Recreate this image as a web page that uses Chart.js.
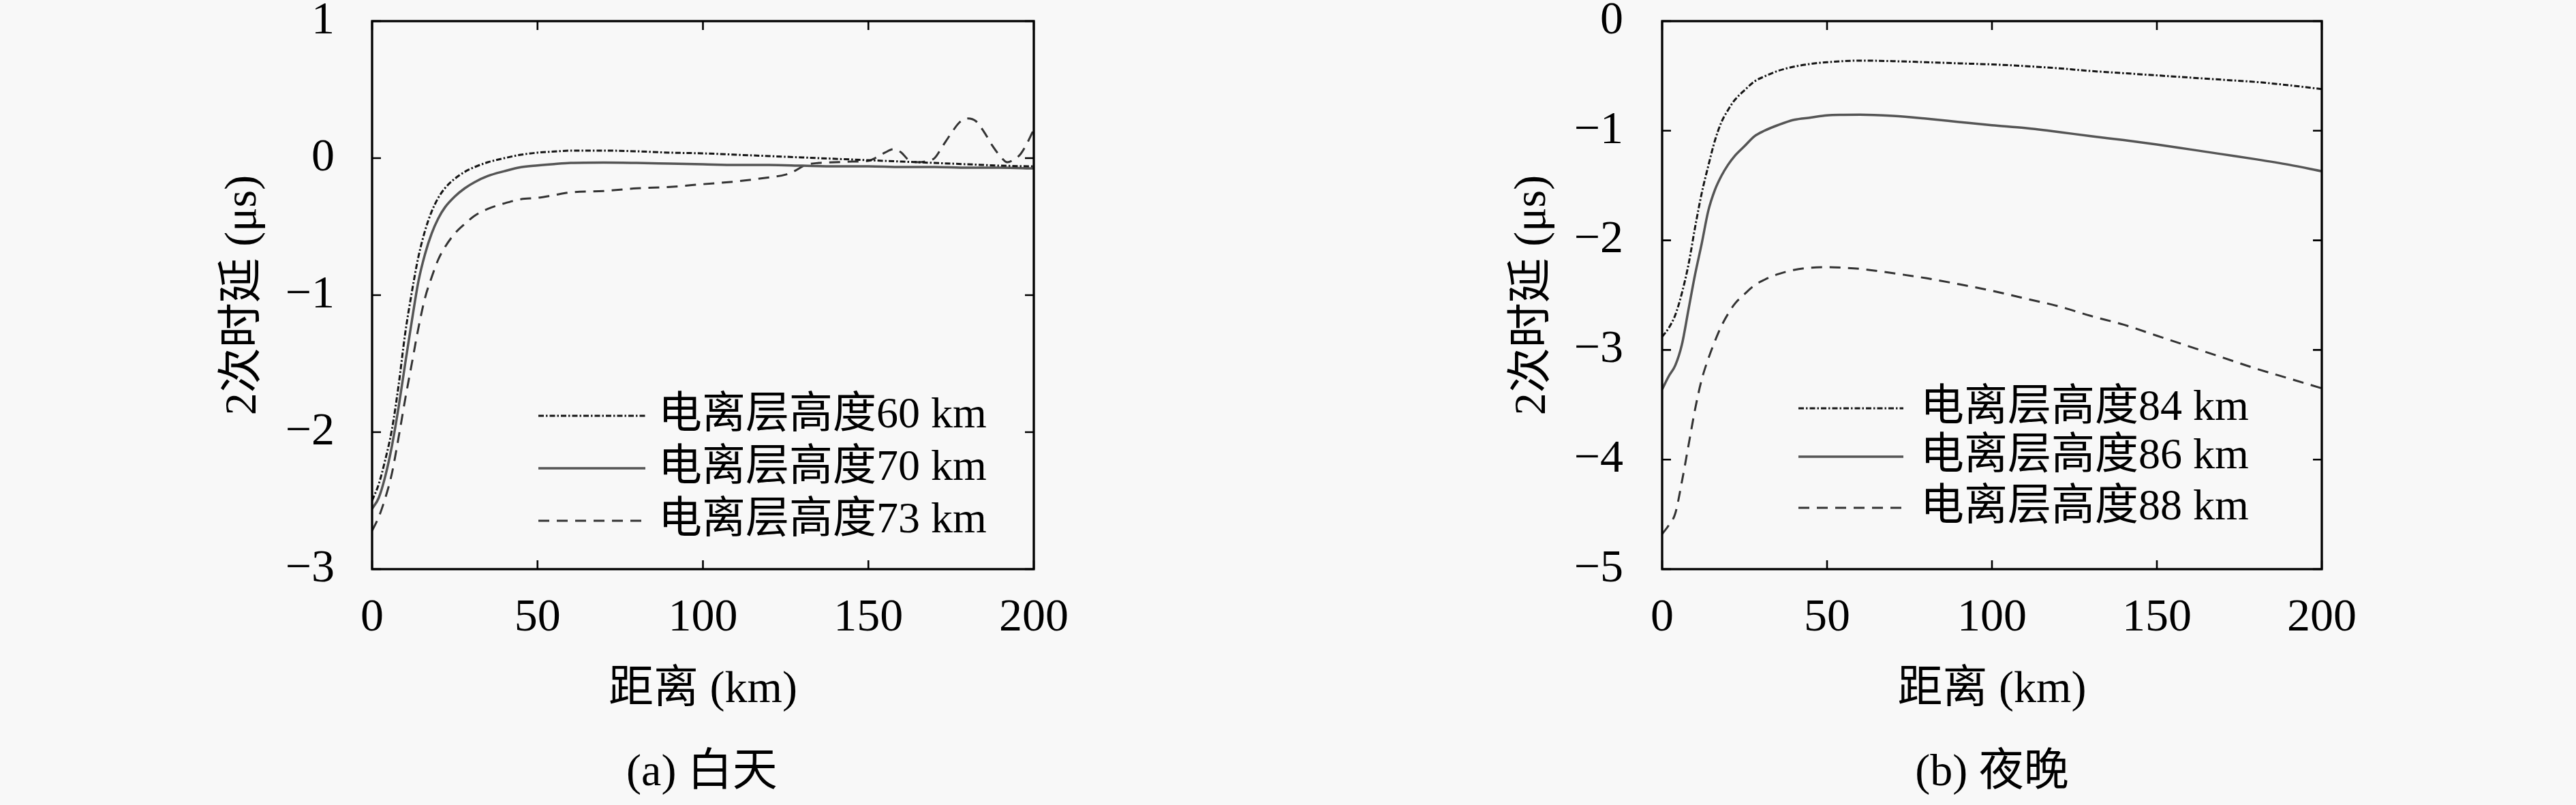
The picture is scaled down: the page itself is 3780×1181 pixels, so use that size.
<!DOCTYPE html>
<html>
<head>
<meta charset="utf-8">
<script src="https://cdn.jsdelivr.net/npm/chart.js@4.4.0/dist/chart.umd.min.js"></script>
<style>
html,body{margin:0;padding:0;background:#f8f8f8;width:3780px;height:1181px;overflow:hidden}
.panel{position:absolute;top:0;width:1890px;height:1181px}
.cap{position:absolute;top:1088px;width:500px;height:84px;line-height:84px;text-align:center;
font-size:66px;font-family:"Liberation Serif","Noto Sans CJK SC",serif;color:#000}
</style>
</head>
<body>
<div class="panel" style="left:0"><canvas id="c1" width="1890" height="1181"></canvas></div>
<div class="panel" style="left:1890px"><canvas id="c2" width="1890" height="1181"></canvas></div>
<div class="cap" style="left:780px">(a) 白天</div>
<div class="cap" style="left:2673px">(b) 夜晚</div>
<script>
// ---------- data ----------
const xTicks = [0, 50, 100, 150, 200];
const dayYTicks = [1, 0, -1, -2, -3];
const nightYTicks = [0, -1, -2, -3, -4, -5];

const dist = [0,2,4,6,8,10,12,14,16,18,20,22,25,28,31,35,40,45,50,55,60,70,80,90,100,110,120,130,140,150,160,170,180,190,200];

const day60 = [-2.50,-2.38,-2.20,-1.98,-1.66,-1.28,-0.98,-0.72,-0.53,-0.39,
  -0.29,-0.22,-0.15,-0.10,-0.065,-0.03,0.0,0.025,0.04,0.048,
  0.055,0.055,0.05,0.04,0.035,0.025,0.015,0.005,-0.005,-0.015,
  -0.025,-0.035,-0.045,-0.055,-0.06];
const day70 = [-2.56,-2.48,-2.32,-2.10,-1.82,-1.50,-1.19,-0.90,-0.70,-0.55,
  -0.44,-0.36,-0.28,-0.22,-0.175,-0.13,-0.095,-0.066,-0.053,-0.043,
  -0.035,-0.032,-0.035,-0.04,-0.045,-0.05,-0.05,-0.055,-0.06,-0.06,
  -0.065,-0.065,-0.07,-0.07,-0.075];
const dist73 = [0,2,4,6,8,10,12,14,16,18,20,22,25,28,31,35,40,45,50,55,
  60,70,80,90,100,110,120,125,128,131,135,140,145,150,152,155,157.5,160,162,165,
  168,170,172.5,175,177.5,180,182.5,185,187.5,190,192,194,196,198,200];
const day73 = [-2.72,-2.62,-2.48,-2.30,-2.04,-1.76,-1.50,-1.24,-1.02,-0.87,
  -0.74,-0.65,-0.55,-0.48,-0.42,-0.37,-0.33,-0.30,-0.29,-0.27,
  -0.25,-0.24,-0.22,-0.21,-0.19,-0.17,-0.14,-0.12,-0.09,-0.05,
  -0.035,-0.03,-0.025,-0.02,0.0,0.04,0.065,0.04,-0.01,-0.03,
  -0.02,0.0,0.09,0.18,0.26,0.29,0.27,0.19,0.09,0.01,
  -0.03,-0.01,0.03,0.11,0.21];

const night84 = [-2.88,-2.80,-2.68,-2.48,-2.22,-1.88,-1.57,-1.32,-1.09,-0.92,
  -0.81,-0.72,-0.63,-0.55,-0.505,-0.455,-0.415,-0.39,-0.375,-0.365,
  -0.36,-0.365,-0.375,-0.385,-0.395,-0.41,-0.43,-0.455,-0.475,-0.495,
  -0.515,-0.535,-0.555,-0.585,-0.62];
const night86 = [-3.36,-3.24,-3.14,-2.95,-2.63,-2.31,-2.03,-1.73,-1.54,-1.41,
  -1.31,-1.23,-1.14,-1.05,-1.00,-0.95,-0.90,-0.88,-0.86,-0.855,
  -0.853,-0.865,-0.89,-0.92,-0.95,-0.975,-1.01,-1.05,-1.085,-1.125,
  -1.17,-1.215,-1.26,-1.31,-1.37];
const night88 = [-4.68,-4.60,-4.49,-4.20,-3.87,-3.54,-3.27,-3.08,-2.92,-2.78,
  -2.67,-2.58,-2.49,-2.41,-2.36,-2.31,-2.27,-2.25,-2.245,-2.25,
  -2.26,-2.30,-2.345,-2.40,-2.46,-2.53,-2.60,-2.69,-2.77,-2.87,
  -2.97,-3.07,-3.17,-3.26,-3.35];

const dayLabels = ['电离层高度60 km', '电离层高度70 km', '电离层高度73 km'];
const nightLabels = ['电离层高度84 km', '电离层高度86 km', '电离层高度88 km'];
const xTitle = '距离 (km)';
const yTitle = '2次时延 (μs)';

// ---------- rendering ----------
const FAM = '"Liberation Serif", "Noto Sans CJK SC", serif';
Chart.defaults.color = '#000';
Chart.defaults.font.family = FAM;

const pts = (xs, ys) => xs.map((x, i) => ({x: x, y: ys[i]}));
const fmt = v => v < 0 ? '\u2212' + Math.abs(v) : String(v);

const styles = [
  {borderColor: '#151515', borderWidth: 3, borderDash: [8, 3, 2.5, 3]},
  {borderColor: '#555555', borderWidth: 3.5, borderDash: []},
  {borderColor: '#333333', borderWidth: 3, borderDash: [16, 11]}
];

const framePlugin = {
  id: 'frame',
  afterDraw(chart, args, opts) {
    const {ctx, chartArea: a, scales} = chart;
    const x = scales.x, y = scales.y;
    ctx.save();
    ctx.setLineDash([]);
    ctx.strokeStyle = '#000';
    ctx.lineWidth = 3.3;
    ctx.strokeRect(a.left, a.top, a.right - a.left, a.bottom - a.top);
    ctx.lineWidth = 2.6;
    const L = 13;
    ctx.beginPath();
    x.ticks.forEach(t => {
      const px = x.getPixelForValue(t.value);
      ctx.moveTo(px, a.bottom); ctx.lineTo(px, a.bottom - L);
      ctx.moveTo(px, a.top); ctx.lineTo(px, a.top + L);
    });
    y.ticks.forEach(t => {
      const py = y.getPixelForValue(t.value);
      ctx.moveTo(a.left, py); ctx.lineTo(a.left + L, py);
      ctx.moveTo(a.right, py); ctx.lineTo(a.right - L, py);
    });
    ctx.stroke();
    const lg = opts.legend;
    chart.data.datasets.forEach((ds, i) => {
      const yy = lg.rows[i];
      ctx.strokeStyle = ds.borderColor;
      ctx.lineWidth = ds.borderWidth;
      ctx.setLineDash(ds.borderDash || []);
      ctx.beginPath(); ctx.moveTo(lg.x0, yy); ctx.lineTo(lg.x1, yy); ctx.stroke();
      ctx.setLineDash([]);
      ctx.fillStyle = '#000';
      ctx.font = '64px ' + FAM;
      ctx.textBaseline = 'middle';
      ctx.textAlign = 'left';
      ctx.fillText(ds.label, lg.tx, yy);
    });
    ctx.restore();
  }
};

function makeChart(id, series, labels, yTicks, cfg) {
  const datasets = series.map((s, i) => Object.assign({
    label: labels[i], data: s, fill: false, pointRadius: 0,
    cubicInterpolationMode: 'monotone'
  }, styles[i]));
  return new Chart(document.getElementById(id), {
    type: 'line',
    data: {datasets},
    options: {
      responsive: false, animation: false, devicePixelRatio: 1,
      layout: {padding: {left: 300, right: 373, top: 31, bottom: 121}},
      plugins: {legend: {display: false}, tooltip: {enabled: false},
        frame: {legend: cfg.legend}},
      scales: {
        x: {
          type: 'linear', min: xTicks[0], max: xTicks[xTicks.length - 1],
          afterBuildTicks: s => { s.ticks = xTicks.map(v => ({value: v})); },
          grid: {display: false, drawTicks: false},
          border: {display: false},
          ticks: {padding: 31, font: {size: 68, lineHeight: 1.2}, callback: fmt, maxRotation: 0},
          title: {display: true, text: xTitle, font: {size: 66, lineHeight: 1.2}, padding: {top: 0, bottom: 8}},
          afterFit: s => { s.height = 225; s.paddingLeft = 0; s.paddingRight = 0; }
        },
        y: {
          type: 'linear', min: Math.min(...yTicks), max: Math.max(...yTicks),
          afterBuildTicks: s => { s.ticks = yTicks.slice().reverse().map(v => ({value: v})); },
          grid: {display: false, drawTicks: false},
          border: {display: false},
          ticks: {padding: cfg.yPad, font: {size: 68, lineHeight: 0.9}, callback: fmt},
          title: {display: true, text: yTitle, font: {size: 66, lineHeight: 1.2}, padding: {top: cfg.titlePad, bottom: 0}},
          afterFit: s => { s.width = cfg.yWidth; s.paddingTop = 0; s.paddingBottom = 0; }
        }
      }
    },
    plugins: [framePlugin]
  });
}

makeChart('c1', [pts(dist, day60), pts(dist, day70), pts(dist73, day73)], dayLabels, dayYTicks,
  {yWidth: 246, yPad: 55, titlePad: 18, legend: {x0: 790, x1: 947, tx: 966, rows: [610, 687, 764]}});
makeChart('c2', [pts(dist, night84), pts(dist, night86), pts(dist, night88)], nightLabels, nightYTicks,
  {yWidth: 249, yPad: 57, titlePad: 20, legend: {x0: 749, x1: 903, tx: 928, rows: [599, 670, 745]}});
</script>
</body>
</html>
